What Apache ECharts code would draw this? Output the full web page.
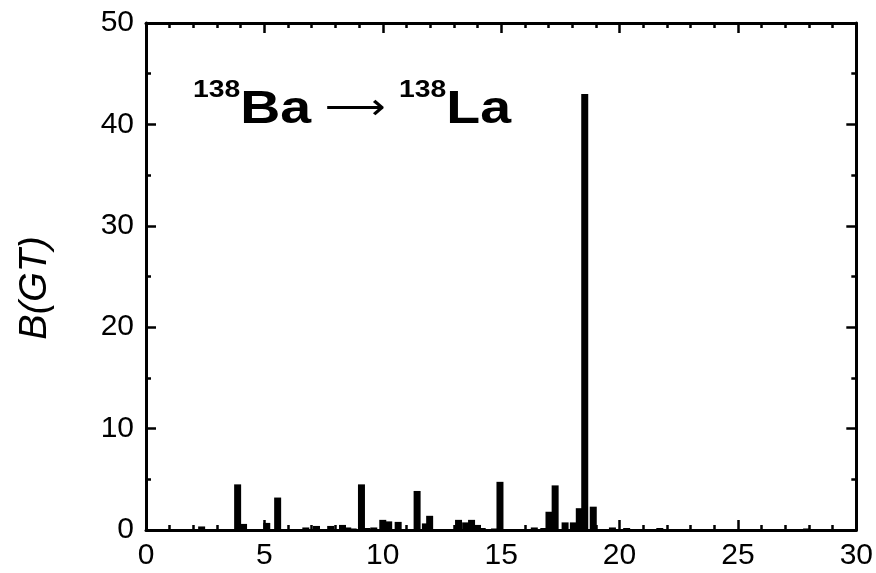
<!DOCTYPE html>
<html>
<head>
<meta charset="utf-8">
<script src="https://cdn.jsdelivr.net/npm/echarts@6/dist/echarts.min.js"></script>
<style>
    html, body { margin: 0; padding: 0; background: #fff; }
    #chart { width: 876px; height: 573px; }
</style>
</head>
<body>
<div id="chart"></div>
<script>
// excitation energy (MeV) of each strength bin
var energies = [2.35, 3.87, 4.12, 5.1, 5.56, 6.75, 7.2, 7.8, 8.3, 8.52, 8.75,
    9.1, 9.33, 9.62, 10.0, 10.25, 10.65, 11.45, 11.8, 11.98, 13.2, 13.5,
    13.75, 14.0, 14.2, 14.72, 14.95, 16.4, 16.8, 17.02, 17.28, 17.7, 18.05,
    18.3, 18.53, 18.89, 19.7, 20.3, 21.7, 27.9];
// B(GT) strength of each bin
var strengths = [0.35, 4.5, 0.6, 0.7, 3.2, 0.25, 0.4, 0.4, 0.5, 0.25, 0.15,
    4.5, 0.2, 0.25, 1.0, 0.85, 0.8, 3.85, 0.65, 1.4, 1.0, 0.75,
    1.0, 0.5, 0.2, 0.15, 4.75, 0.25, 0.2, 1.8, 4.4, 0.75, 0.75,
    2.15, 43, 2.3, 0.25, 0.2, 0.2, 0.15];
var xTicks = [0, 5, 10, 15, 20, 25, 30];
var yTicks = [0, 10, 20, 30, 40, 50];

var font = '"Liberation Sans", Arial, sans-serif';

var barData = [];
for (var i = 0; i < energies.length; i++)
    barData.push([energies[i], strengths[i]]);

function axisBase(showLabel) {
    return {
        axisLine: { onZero: false, lineStyle: { color: '#000', width: 3 } },
        axisTick: { inside: true, length: 10, lineStyle: { color: '#000', width: 2.5 } },
        minorTick: { show: true, length: 5, lineStyle: { color: '#000', width: 2.5 } },
        splitLine: { show: false },
        axisLabel: {
            show: showLabel,
            color: '#000',
            fontFamily: font,
            fontSize: 30
        }
    };
}

function xAxisAt(pos) {
    var a = axisBase(pos == 'bottom');
    a.type = 'value';
    a.position = pos;
    a.min = xTicks[0];
    a.max = xTicks[xTicks.length - 1];
    a.interval = 5;
    a.minorTick.splitNumber = 5;
    a.axisLabel.margin = 11;
    return a;
}

function yAxisAt(pos) {
    var a = axisBase(pos == 'left');
    a.type = 'value';
    a.position = pos;
    a.min = yTicks[0];
    a.max = yTicks[yTicks.length - 1];
    a.interval = 10;
    a.minorTick.splitNumber = 2;
    a.axisLabel.margin = 12;
    return a;
}

var chart = echarts.init(document.getElementById('chart'));

chart.setOption({
    animation: false,
    backgroundColor: '#fff',
    grid: { left: 146, right: 16, top: 23, bottom: 43 },
    xAxis: [xAxisAt('bottom'), xAxisAt('top')],
    yAxis: [yAxisAt('left'), yAxisAt('right')],
    graphic: [{
        type: 'text',
        x: 193,
        y: 78,
        scaleX: 1.18,
        style: {
            text: '{s|138}{b|Ba}{a| \u27F6 }{s|138}{b|La}',
            rich: {
                s: { fontFamily: font, fontSize: 24, fontWeight: 'bold', fill: '#000', verticalAlign: 'top', lineHeight: 24 },
                b: { fontFamily: font, fontSize: 47, fontWeight: 'bold', fill: '#000', lineHeight: 60 },
                a: { fontFamily: '"DejaVu Sans", sans-serif', fontSize: 36, fill: '#000', lineHeight: 64 }
            }
        }
    }, {
        type: 'text',
        x: 35,
        y: 288,
        rotation: Math.PI / 2,
        style: {
            text: 'B(GT)',
            fontFamily: font,
            fontSize: 38,
            fontStyle: 'italic',
            fill: '#000',
            align: 'center',
            verticalAlign: 'middle'
        }
    }],
    series: [{
        type: 'bar',
        xAxisIndex: 0,
        yAxisIndex: 0,
        barWidth: 7,
        itemStyle: { color: '#000' },
        data: barData
    }]
});
</script>
</body>
</html>
